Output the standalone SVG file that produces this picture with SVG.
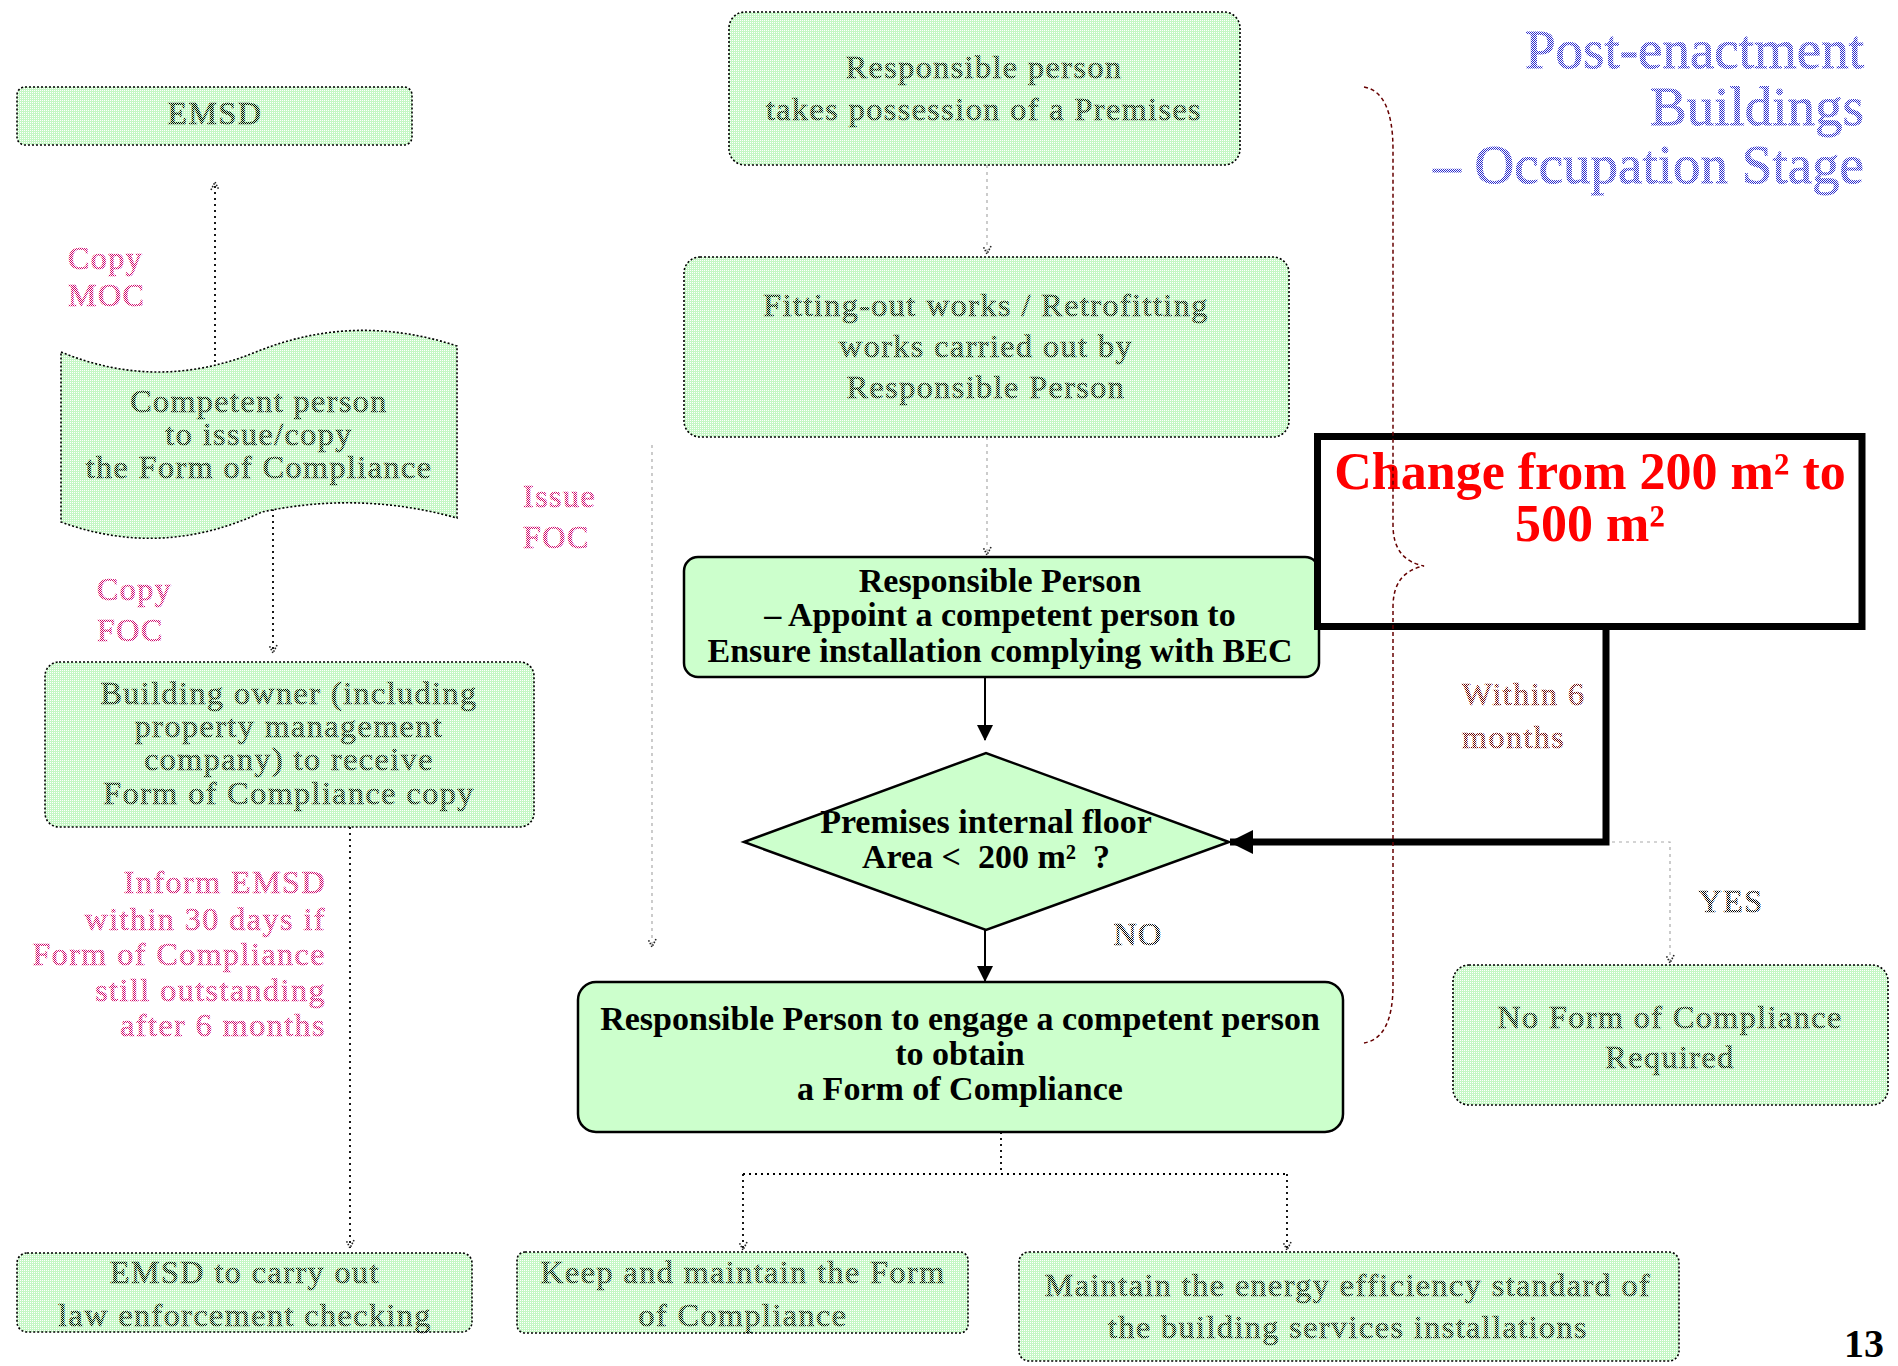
<svg xmlns="http://www.w3.org/2000/svg" width="1898" height="1366" viewBox="0 0 1898 1366">
  <defs>
    <!-- screened fills used for the faded (inactive) steps -->
    <pattern id="pg" width="2" height="2" patternUnits="userSpaceOnUse">
      <rect width="2" height="2" fill="#c4f7c4"/>
      <rect width="1" height="1" fill="#ffffff"/>
    </pattern>
    <pattern id="pk" width="2" height="2" patternUnits="userSpaceOnUse">
      <rect width="1" height="1" fill="#000"/>
      <rect x="1" y="1" width="1" height="1" fill="#000"/>
    </pattern>
    <pattern id="pm" width="2" height="2" patternUnits="userSpaceOnUse">
      <rect width="1" height="1" fill="#cc0066"/>
      <rect x="1" y="1" width="1" height="1" fill="#cc0066"/>
    </pattern>
    <pattern id="pb" width="2" height="2" patternUnits="userSpaceOnUse">
      <rect width="1" height="1" fill="#2a2acc"/>
      <rect x="1" y="1" width="1" height="1" fill="#2a2acc"/>
    </pattern>
    <pattern id="pr" width="2" height="2" patternUnits="userSpaceOnUse">
      <rect width="1" height="1" fill="#660000"/>
      <rect x="1" y="1" width="1" height="1" fill="#660000"/>
    </pattern>
    <marker id="fa" viewBox="0 0 10 10" refX="9" refY="5" markerWidth="10" markerHeight="10" markerUnits="userSpaceOnUse" orient="auto">
      <path d="M1,1 L9,5 L1,9" fill="none" stroke="#222" stroke-width="1.6" stroke-dasharray="1.5 1.5"/>
    </marker>
    <marker id="sa" viewBox="0 0 16 16" refX="15" refY="8" markerWidth="16" markerHeight="16" markerUnits="userSpaceOnUse" orient="auto">
      <path d="M0,0 L16,8 L0,16 z" fill="#000"/>
    </marker>
    <marker id="ta" viewBox="0 0 24 24" refX="23" refY="12" markerWidth="24" markerHeight="24" markerUnits="userSpaceOnUse" orient="auto">
      <path d="M0,0 L24,12 L0,24 z" fill="#000"/>
    </marker>
    <style>
      .fbox { fill: url(#pg); stroke: #000; stroke-width: 1.6; stroke-dasharray: 2 2; }
      .sbox { fill: #ccffcc; stroke: #000; stroke-width: 2.5; }
      .ft { font-family: "Liberation Serif", "Times New Roman", serif; font-size: 32px; letter-spacing: 1.5px; fill: url(#pk); stroke: url(#pk); stroke-width: 0.7; text-anchor: middle; }
      .fm { font-family: "Liberation Serif", "Times New Roman", serif; font-size: 32px; letter-spacing: 1.5px; fill: url(#pm); stroke: url(#pm); stroke-width: 0.7; }
      .fr { font-family: "Liberation Serif", "Times New Roman", serif; font-size: 32px; letter-spacing: 1.5px; fill: url(#pr); stroke: url(#pr); stroke-width: 0.7; }
      .bt { font-family: "Liberation Serif", "Times New Roman", serif; font-size: 34px; font-weight: bold; fill: #000; text-anchor: middle; white-space: pre; }
      .dl { fill: none; stroke: #000; stroke-width: 1.8; stroke-dasharray: 2 4; }
      .gl { fill: none; stroke: #aaa; stroke-width: 1.2; stroke-dasharray: 3 4; }
      .sl { fill: none; stroke: #000; stroke-width: 2; }
    </style>
  </defs>

  <rect width="1898" height="1366" fill="#ffffff"/>

  <!-- connectors -->
  <g id="connectors">
    <path class="dl" d="M215,362 L215,182" marker-end="url(#fa)"/>
    <path class="dl" d="M273,503 L273,653" marker-end="url(#fa)"/>
    <path class="dl" d="M350,827 L350,1248" marker-end="url(#fa)"/>
    <path class="gl" d="M987,165 L987,254" marker-end="url(#fa)"/>
    <path class="gl" d="M987,437 L987,555" marker-end="url(#fa)"/>
    <path class="gl" d="M652,445 L652,947" marker-end="url(#fa)"/>
    <path class="sl" d="M985,677 L985,740" marker-end="url(#sa)"/>
    <path class="sl" d="M985,930 L985,981" marker-end="url(#sa)"/>
    <path d="M1606,630 L1606,842 L1230,842" fill="none" stroke="#000" stroke-width="7" marker-end="url(#ta)"/>
    <path class="gl" d="M1612,842 L1670,842 L1670,963" marker-end="url(#fa)"/>
    <path class="dl" d="M1001,1132 L1001,1174 M743,1174 L1287,1174"/>
    <path class="dl" d="M743,1174 L743,1250" marker-end="url(#fa)"/>
    <path class="dl" d="M1287,1174 L1287,1250" marker-end="url(#fa)"/>
  </g>

  <!-- left column -->
  <g id="n-emsd">
    <rect class="fbox" x="17" y="87" width="395" height="58" rx="8"/>
    <text class="ft" x="215" y="124">EMSD</text>
  </g>
  <g id="n-competent">
    <path class="fbox" d="M61,352 Q158,392 256,352 Q354,312 457,346 L457,518 Q360,491 262,512 Q162,559 61,522 Z"/>
    <text class="ft" x="259" y="412">Competent person</text>
    <text class="ft" x="259" y="445">to issue/copy</text>
    <text class="ft" x="259" y="478">the Form of Compliance</text>
  </g>
  <g id="n-owner">
    <rect class="fbox" x="45" y="662" width="489" height="165" rx="14"/>
    <text class="ft" x="289" y="704">Building owner (including</text>
    <text class="ft" x="289" y="737">property management</text>
    <text class="ft" x="289" y="770">company) to receive</text>
    <text class="ft" x="289" y="804">Form of Compliance copy</text>
  </g>
  <g id="n-enforce">
    <rect class="fbox" x="17" y="1253" width="455" height="79" rx="10"/>
    <text class="ft" x="245" y="1283">EMSD to carry out</text>
    <text class="ft" x="245" y="1326">law enforcement checking</text>
  </g>

  <!-- centre column -->
  <g id="n-possession">
    <rect class="fbox" x="729" y="12" width="511" height="153" rx="16"/>
    <text class="ft" x="984" y="78">Responsible person</text>
    <text class="ft" x="984" y="120">takes possession of a Premises</text>
  </g>
  <g id="n-fitting">
    <rect class="fbox" x="684" y="257" width="605" height="180" rx="16"/>
    <text class="ft" x="986" y="316">Fitting-out works / Retrofitting</text>
    <text class="ft" x="986" y="357">works carried out by</text>
    <text class="ft" x="986" y="398">Responsible Person</text>
  </g>
  <g id="n-appoint">
    <rect class="sbox" x="684" y="557" width="635" height="120" rx="14"/>
    <text class="bt" x="1000" y="592">Responsible Person</text>
    <text class="bt" x="1000" y="626">– Appoint a competent person to</text>
    <text class="bt" x="1000" y="662">Ensure installation complying with BEC</text>
  </g>
  <g id="n-area">
    <polygon class="sbox" points="744,842 986,753 1229,842 986,930"/>
    <text class="bt" x="986" y="833">Premises internal floor</text>
    <text class="bt" x="986" y="868">Area &lt;  200 m²  ?</text>
  </g>
  <g id="n-engage">
    <rect class="sbox" x="578" y="982" width="765" height="150" rx="18"/>
    <text class="bt" x="960" y="1030">Responsible Person to engage a competent person</text>
    <text class="bt" x="960" y="1065">to obtain</text>
    <text class="bt" x="960" y="1100">a Form of Compliance</text>
  </g>
  <g id="n-keep">
    <rect class="fbox" x="517" y="1252" width="451" height="81" rx="8"/>
    <text class="ft" x="743" y="1283">Keep and maintain the Form</text>
    <text class="ft" x="743" y="1326">of Compliance</text>
  </g>
  <g id="n-maintain">
    <rect class="fbox" x="1019" y="1252" width="660" height="109" rx="10"/>
    <text class="ft" x="1348" y="1296">Maintain the energy efficiency standard of</text>
    <text class="ft" x="1348" y="1338">the building services installations</text>
  </g>

  <!-- right column -->
  <g id="n-noform">
    <rect class="fbox" x="1453" y="965" width="435" height="140" rx="16"/>
    <text class="ft" x="1670" y="1028">No Form of Compliance</text>
    <text class="ft" x="1670" y="1068">Required</text>
  </g>
  <g id="n-change">
    <rect x="1317.5" y="436.5" width="544.5" height="190" fill="#ffffff" stroke="#000" stroke-width="7"/>
    <text x="1590" y="489" font-family="Liberation Serif, Times New Roman, serif" font-size="52" font-weight="bold" fill="#ff0000" text-anchor="middle">Change from 200 m² to</text>
    <text x="1590" y="541" font-family="Liberation Serif, Times New Roman, serif" font-size="52" font-weight="bold" fill="#ff0000" text-anchor="middle">500 m²</text>
  </g>

  <!-- brace grouping the occupation-stage steps -->
  <path id="brace" d="M1364,87 Q1393,92 1393,150 L1393,525 Q1393,560 1424,566 Q1393,572 1393,607 L1393,985 Q1393,1038 1364,1043" fill="none" stroke="#660000" stroke-width="1.5" stroke-dasharray="4 3"/>

  <!-- title -->
  <g id="title" font-family="Liberation Serif, Times New Roman, serif" font-size="55" fill="url(#pb)" stroke="url(#pb)" stroke-width="0.8" text-anchor="end">
    <text x="1864" y="68">Post-enactment</text>
    <text x="1864" y="125">Buildings</text>
    <text x="1864" y="183">– Occupation Stage</text>
  </g>

  <!-- connector labels -->
  <g id="labels">
    <text class="fm" x="68" y="269">Copy</text>
    <text class="fm" x="68" y="306">MOC</text>
    <text class="fm" x="97" y="600">Copy</text>
    <text class="fm" x="97" y="641">FOC</text>
    <text class="fm" x="523" y="507">Issue</text>
    <text class="fm" x="523" y="548">FOC</text>
    <g text-anchor="end">
      <text class="fm" x="326" y="893">Inform EMSD</text>
      <text class="fm" x="326" y="930">within 30 days if</text>
      <text class="fm" x="326" y="965">Form of Compliance</text>
      <text class="fm" x="326" y="1001">still outstanding</text>
      <text class="fm" x="326" y="1036">after 6 months</text>
    </g>
    <text class="fr" x="1462" y="705">Within 6</text>
    <text class="fr" x="1462" y="748">months</text>
    <text class="ft" x="1731" y="912">YES</text>
    <text class="ft" x="1138" y="945">NO</text>
  </g>

  <text id="page-number" x="1884" y="1357" font-family="Liberation Serif, Times New Roman, serif" font-size="40" font-weight="bold" fill="#000" text-anchor="end">13</text>
</svg>
